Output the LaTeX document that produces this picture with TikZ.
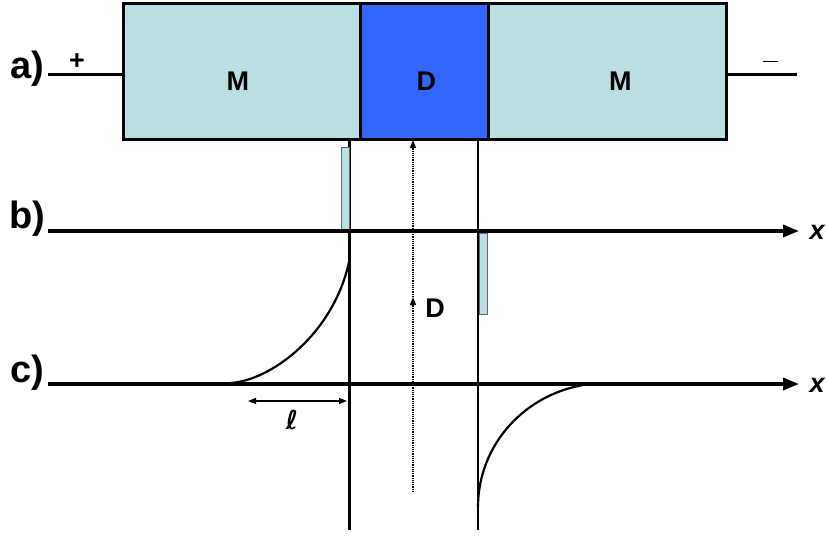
\documentclass[tikz,border=0pt]{standalone}
\usepackage{fontspec}
\setmainfont{Liberation Sans}
\newfontfamily\symfont{DejaVu Sans}
\usetikzlibrary{arrows.meta,positioning,calc}

\definecolor{slab}{RGB}{187,224,227}
\definecolor{diel}{RGB}{51,102,255}

\begin{document}
\begin{tikzpicture}[x=1pt,y=-1pt,
        block/.style={draw, line width=2.5pt, minimum height=136pt, inner sep=0pt, anchor=north west},
        axis/.style={line width=3.5pt, -{Triangle[length=16pt,width=12pt]}},
        bar/.style={draw=black!60, fill=slab, line width=0.8pt},
        big/.style={font=\fontsize{38}{40}\selectfont\bfseries},
        mid/.style={font=\fontsize{27}{30}\selectfont\bfseries},
        curve/.style={line width=2.2pt}
    ]
    \useasboundingbox (0,0) rectangle (827,536);
    % the three blocks
    \node[block, fill=slab, minimum width=237pt] (mL) at (122,2) {};
    \node[block, fill=diel, minimum width=128pt] (dd) at (359,2) {};
    \node[block, fill=slab, minimum width=238pt] (mR) at (487,2) {};
    \node[mid] at ($(mL.center)+(-4,10)$) {M};
    \node[mid] at ($(dd.center)+(2,10)$) {D};
    \node[mid] at ($(mR.center)+(13,10)$) {M};
    % leads
    \coordinate (pl) at (48,74);
    \coordinate (pr) at (797,74);
    \draw[line width=3pt] (pl) -- (mL.west |- pl);
    \draw[line width=3pt] (mR.east |- pr) -- (pr);
    \node[mid] at (77,62) {+};
    \draw[line width=1pt] (763,61) -- (778,61);
    \node[big] at (27,69) {a)};
    \node[big] at (27,219) {b)};
    \node[big] at (27,373) {c)};
    % verticals
    \coordinate (v1t) at (349.5,140);
    \coordinate (v1b) at (349.5,530);
    \coordinate (v2t) at (478,140);
    \coordinate (v2b) at (478,530);
    \draw[line width=2.2pt] (v1t) -- (v1b);
    \draw[line width=2.2pt] (v2t) -- (v2b);
    % b) charges
    \draw[bar] (341,147) rectangle (349,229);
    \draw[bar] (479,233) rectangle (487,314);
    % axes
    \coordinate (b0) at (48,231);
    \coordinate (b1) at (799,231);
    \coordinate (c0) at (48,384);
    \coordinate (c1) at (799,384);
    \draw[axis] (b0) -- (b1);
    \draw[axis] (c0) -- (c1);
    \node[font=\fontsize{27}{30}\selectfont\bfseries\itshape] (xb) at (817,232) {x};
    \node[font=\fontsize{27}{30}\selectfont\bfseries\itshape] (xc) at (817,385) {x};
    % c) field
    \draw[curve] (230,383) .. controls (270,381) and (333,335) .. (349,262);
    \draw[curve] (478,507) .. controls (478,445) and (525,392) .. (590,384);
    % length l
    \coordinate (l0) at (248,401);
    \coordinate (l1) at (347,401);
    \draw[line width=1.3pt, {Triangle[length=8pt,width=6pt]}-{Triangle[length=8pt,width=6pt]}] (l0) -- (l1);
    \node[font=\fontsize{26}{28}\selectfont\symfont\bfseries\itshape] (ll) at (292,420) {ℓ};
    % D arrow
    \coordinate (d0) at (413,492);
    \coordinate (d1) at (413,297);
    \coordinate (d2) at (413,140);
    \draw[line width=1.2pt, densely dotted, -{Triangle[length=8pt,width=6pt]}] (d0) -- (d1);
    \draw[line width=1.2pt, densely dotted, -{Triangle[length=8pt,width=6pt]}] (d1) -- (d2);
    \node[mid] (dl) at (435,308) {D};
\end{tikzpicture}
\end{document}
